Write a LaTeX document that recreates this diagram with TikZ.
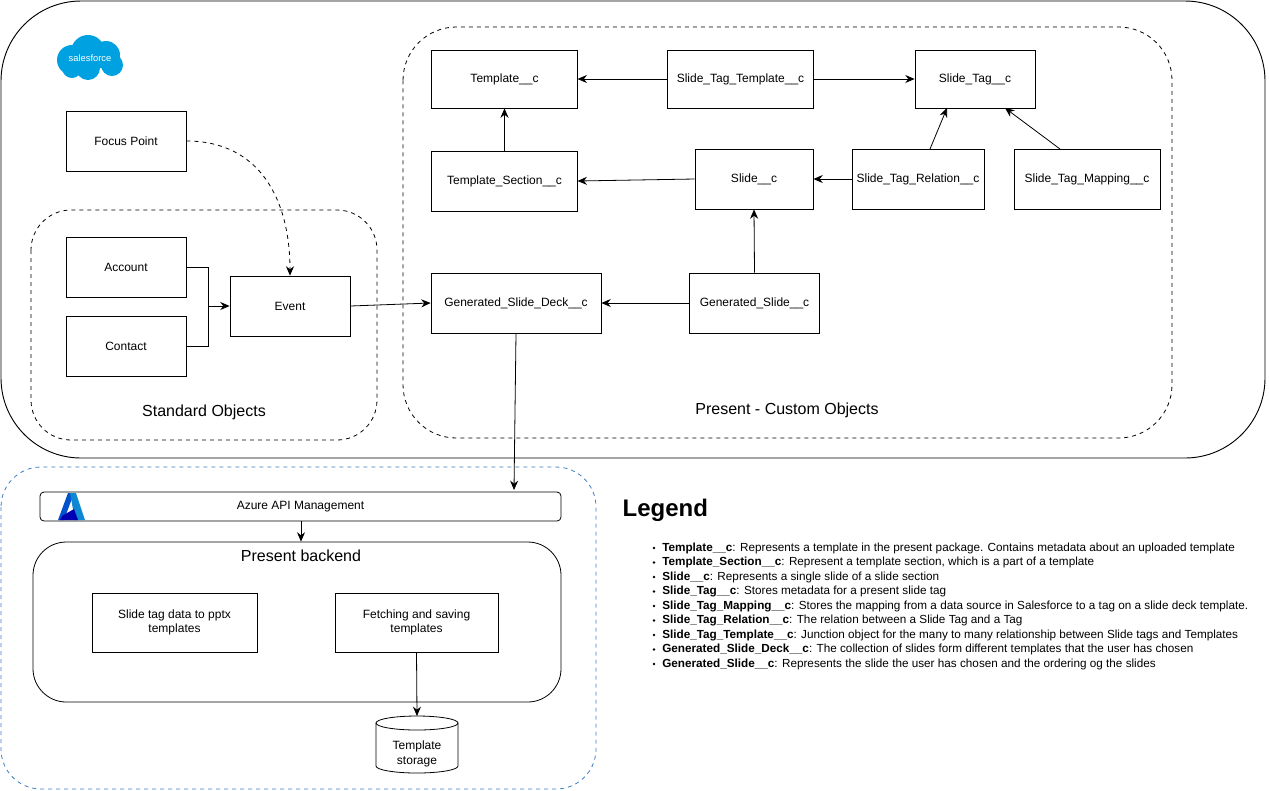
\documentclass[tikz,border=0pt]{standalone}
\usepackage{fontspec}
\setmainfont{Liberation Sans}
\usetikzlibrary{shapes.geometric,arrows.meta,calc}
\definecolor{sfblue}{HTML}{00A1E0}
\definecolor{azdash}{HTML}{3D7EC6}
\begin{document}
\begin{tikzpicture}[x=0.75pt,y=-0.75pt,
  box/.style={draw,line width=0.6pt,font=\fontsize{9}{11}\selectfont,align=center},
  arr/.style={-{Stealth[length=7pt,width=6pt]},line width=0.6pt},
  lbl/.style={font=\fontsize{12}{14}\selectfont}]
\useasboundingbox (0,0) rectangle (1269,790);
% containers
\draw[line width=0.7pt,rounded corners=60] (1,1) rectangle (1265,458);
\draw[dashed,line width=0.6pt,rounded corners=40] (403,27) rectangle (1172,438);
\draw[dashed,line width=0.6pt,rounded corners=30] (31,210) rectangle (377,440);
\node[lbl] at (204,412) {Standard Objects};
\node[lbl] at (787,410) {Present - Custom Objects};
% salesforce logo
\begin{scope}
\fill[sfblue] (72,60) circle (15) (88,52) circle (17) (106,55) circle (14) (112,65) circle (11) (88,68) circle (12) (72,68) circle (10);
\node[white,font=\fontsize{7}{8}\selectfont] at (90,58) {salesforce};
\end{scope}
% nodes
\node[box,minimum width=90pt,minimum height=45pt] (fp) at (126,141) {Focus Point};
\node[box,minimum width=90pt,minimum height=45pt] (acc) at (126,267) {Account};
\node[box,minimum width=90pt,minimum height=45pt] (con) at (126,346) {Contact};
\node[box,minimum width=90pt,minimum height=45pt] (ev) at (290,306) {Event};
\node[box,minimum width=109pt,minimum height=43.5pt] (tpl) at (504.5,79) {Template\_\_c};
\node[box,minimum width=109pt,minimum height=43.5pt] (stt) at (740.5,79) {Slide\_Tag\_Template\_\_c};
\node[box,minimum width=90pt,minimum height=43.5pt] (st) at (975,79) {Slide\_Tag\_\_c};
\node[box,minimum width=109pt,minimum height=45pt] (ts) at (504.5,181) {Template\_Section\_\_c};
\node[box,minimum width=88.5pt,minimum height=45pt] (sl) at (754,179) {Slide\_\_c};
\node[box,minimum width=99pt,minimum height=45pt] (str) at (918,179) {Slide\_Tag\_Relation\_\_c};
\node[box,minimum width=109.5pt,minimum height=45pt] (stm) at (1087,179) {Slide\_Tag\_Mapping\_\_c};
\node[box,minimum width=127.5pt,minimum height=45pt] (gsd) at (516,303) {Generated\_Slide\_Deck\_\_c};
\node[box,minimum width=98pt,minimum height=45pt] (gs) at (754.5,303) {Generated\_Slide\_\_c};
% edges
\draw[arr,dashed] (fp.east) .. controls (260,141) and (290,200) .. (ev.north);
\draw[line width=0.6pt] (acc.east) -- (208,267) -- (208,306);
\draw[line width=0.6pt] (con.east) -- (208,346) -- (208,306);
\draw[arr] (208,306) -- (ev.west);
\draw[arr] (ev.east) -- (gsd.west);
\draw[arr] (stt.west) -- (tpl.east);
\draw[arr] (stt.east) -- (st.west);
\draw[arr] (ts.north) -- (tpl.south);
\draw[arr] (sl.west) -- (ts.east);
\draw[arr] (str.west) -- (sl.east);
\draw[arr] (930,149) -- (947,108);
\draw[arr] (1060,149) -- (1005,108);
\draw[arr] (gs.north) -- (sl.south);
\draw[arr] (gs.west) -- (gsd.east);
% bottom
\draw[dashed,azdash,line width=0.6pt,rounded corners=30] (1,467) rectangle (596,789);
\node[box,minimum width=390.75pt,minimum height=21.75pt,rounded corners=3pt] (apim) at (300.5,506.5) {Azure API Management};
\draw[arr] (516,333) -- (514,490);
% azure logo
\fill[blue!60!cyan!80!black] (58,520) -- (68,493) -- (74,493) -- (64,520) -- cycle;
\fill[cyan!70!blue] (70,493) -- (76,493) -- (85,520) -- (75,520) -- cycle;
\fill[blue!70!black] (62,516) -- (74,509) -- (78,520) -- (60,520)--cycle;
\node[draw,line width=0.6pt,rounded corners=25,minimum width=396pt,minimum height=120pt] (pb) at (297,622) {};
\node[lbl] at (301,556) {Present backend};
\draw[arr] (301,521) -- (pb.north -| 301,0);
\node[box,minimum width=123.75pt,minimum height=44.25pt] (sd) at (174.5,622.5) {Slide tag data to pptx\\templates};
\node[box,minimum width=122.25pt,minimum height=44.25pt] (fs) at (416.5,622.5) {Fetching and saving\\templates};
% cylinder
\draw[line width=0.6pt] (376,723) -- (376,766) arc[start angle=180,end angle=0,x radius=41,y radius=7] -- (458,723);
\draw[line width=0.6pt] (417,723) ellipse [x radius=41,y radius=7];
\coordinate (dbtop) at (417,716);
\node[font=\fontsize{9}{11}\selectfont,align=center] (db) at (417,754) {Template\\storage};
\draw[arr] (fs.south) -- (dbtop);
% legend
\node[anchor=west,font=\bfseries\fontsize{18}{20}\selectfont] at (618,510) {Legend};
\foreach \i/\b/\t in {0/Template\_\_c/Represents a template in the present package. Contains metadata about an uploaded template,
1/Template\_Section\_\_c/Represent a template section{,} which is a part of a template,
2/Slide\_\_c/Represents a single slide of a slide section,
3/Slide\_Tag\_\_c/Stores metadata for a present slide tag,
4/Slide\_Tag\_Mapping\_\_c/Stores the mapping from a data source in Salesforce to a tag on a slide deck template.,
5/Slide\_Tag\_Relation\_\_c/The relation between a Slide Tag and a Tag,
6/Slide\_Tag\_Template\_\_c/Junction object for the many to many relationship between Slide tags and Templates,
7/Generated\_Slide\_Deck\_\_c/The collection of slides form different templates that the user has chosen,
8/Generated\_Slide\_\_c/Represents the slide the user has chosen and the ordering og the slides}{
\fill (654,548+14.5*\i) circle (1.4);
\node[anchor=west,inner sep=0,font=\fontsize{8.8}{10}\selectfont] at (662,548+14.5*\i) {\textbf{\b}: \t};
}
\end{tikzpicture}
\end{document}
